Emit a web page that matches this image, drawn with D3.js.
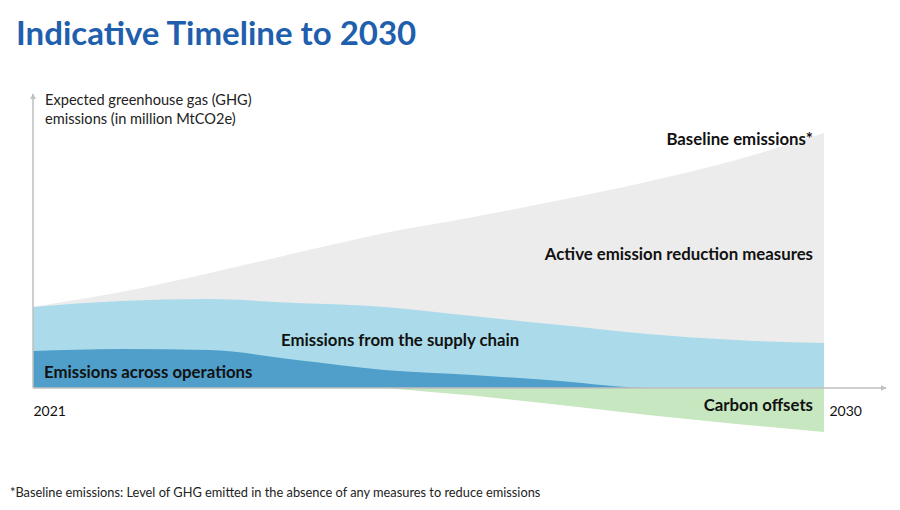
<!DOCTYPE html>
<html>
<head>
<meta charset="utf-8">
<script src="https://cdn.jsdelivr.net/npm/d3@7"></script>
<style>
  body { margin: 0; background: #fff; }
  svg { font-family: Lato, "Open Sans", sans-serif; }
</style>
</head>
<body>
<svg id="chart" width="900" height="510"></svg>
<script>
// years on the timeline
const years = [2021, 2022, 2023, 2024, 2025, 2026, 2027, 2028, 2029, 2030];
// baseline emissions (no measures)
const baseline = [31.8, 37.6, 45.0, 53.0, 60.8, 67.0, 73.7, 81.0, 89.4, 100];
// emissions across operations
const operations = [14.5, 15.3, 14.9, 11.0, 7.1, 5.1, 2.7, 0, 0, 0];
// emissions from the supply chain (on top of operations)
const supplyChain = [17.3, 18.8, 20.0, 22.3, 24.7, 23.1, 22.0, 21.2, 18.8, 17.6];
// carbon offsets (below zero)
const offsets = [null, null, null, null, 0, -2.9, -6.7, -10.6, -14.1, -17.3];
const axisYears = [2021, 2030];

const svg = d3.select('#chart');

const x = d3.scaleLinear().domain([2021, 2030]).range([33, 824]);
const y = d3.scaleLinear().domain([0, 100]).range([388, 133]);

const table = years.map((yr, i) => ({
  year: yr,
  baseline: baseline[i],
  operations: operations[i],
  supply: supplyChain[i],
  offset: offsets[i]
}));

// title
svg.append('text')
  .attr('x', 16).attr('y', 45)
  .attr('fill', '#1f5fad')
  .style('font-size', '33px').style('font-weight', 'bold')
  .text('Indicative Timeline to 2030');

const area = d3.area()
  .x(d => x(d.year))
  .curve(d3.curveMonotoneX);

// baseline (grey)
svg.append('path')
  .datum(table)
  .attr('fill', '#ececec')
  .attr('d', area.y0(y(0)).y1(d => y(d.baseline)));

// stacked blue layers
const stack = d3.stack().keys(['operations', 'supply']);
const layers = stack(table);
const blues = { operations: '#4f9fca', supply: '#abdbea' };

svg.selectAll('.layer')
  .data(layers.slice().reverse())
  .enter()
  .append('path')
  .attr('class', 'layer')
  .attr('fill', d => blues[d.key])
  .attr('d', d => d3.area()
      .x(p => x(p.data.year))
      .y0(y(0))
      .y1(p => y(p[1]))
      .curve(d3.curveMonotoneX)(d));

// carbon offsets (green)
svg.append('path')
  .datum(table.filter(d => d.offset !== null))
  .attr('fill', '#c6e7bf')
  .attr('d', d3.area()
      .x(d => x(d.year))
      .y0(y(0))
      .y1(d => y(d.offset))
      .curve(d3.curveLinear));

// arrow marker
svg.append('defs').append('marker')
  .attr('id', 'arrow')
  .attr('viewBox', '0 0 10 10')
  .attr('refX', 9).attr('refY', 5)
  .attr('markerWidth', 6).attr('markerHeight', 6)
  .attr('markerUnits', 'userSpaceOnUse')
  .attr('orient', 'auto')
  .append('path')
  .attr('d', 'M0,0 L10,5 L0,10 z')
  .attr('fill', '#bfbfbf');

svg.append('line')
  .attr('x1', x(2021)).attr('x2', x(2021))
  .attr('y1', y(0)).attr('y2', 94)
  .attr('stroke', '#bfbfbf').attr('stroke-width', 1.5)
  .attr('marker-end', 'url(#arrow)');

svg.append('line')
  .attr('x1', x(2021)).attr('x2', 886)
  .attr('y1', y(0)).attr('y2', y(0))
  .attr('stroke', '#bfbfbf').attr('stroke-width', 1.5)
  .attr('marker-end', 'url(#arrow)');

// year labels
const xAxis = svg.append('g')
  .attr('transform', `translate(0, ${y(0)})`)
  .call(d3.axisBottom(x).tickValues(axisYears).tickSize(0).tickFormat(d3.format('d')));
xAxis.select('.domain').remove();
xAxis.selectAll('text')
  .attr('text-anchor', 'start')
  .attr('y', 18)
  .attr('dx', d => d === 2030 ? 5 : 0)
  .style('font-family', 'Lato, "Open Sans", sans-serif')
  .style('font-size', '14px')
  .attr('fill', '#111');

// y axis label
const yLabel = svg.append('text')
  .attr('x', 45).attr('y', 105)
  .attr('fill', '#222')
  .style('font-size', '14.6px');
yLabel.append('tspan').attr('x', 45).text('Expected greenhouse gas (GHG)');
yLabel.append('tspan').attr('x', 45).attr('dy', 19).text('emissions (in million MtCO2e)');

// series labels
const labels = [
  { text: 'Baseline emissions*', x: 813, y: 145, anchor: 'end' },
  { text: 'Active emission reduction measures', x: 813, y: 260, anchor: 'end' },
  { text: 'Emissions from the supply chain', x: 281, y: 346, anchor: 'start' },
  { text: 'Emissions across operations', x: 44, y: 378, anchor: 'start' },
  { text: 'Carbon offsets', x: 813, y: 411, anchor: 'end' }
];
svg.selectAll('.lbl')
  .data(labels)
  .enter()
  .append('text')
  .attr('class', 'lbl')
  .attr('x', d => d.x).attr('y', d => d.y)
  .attr('text-anchor', d => d.anchor)
  .attr('fill', '#111')
  .style('font-size', '16.8px').style('font-weight', 'bold')
  .text(d => d.text);

// footnote
svg.append('text')
  .attr('x', 10).attr('y', 497)
  .attr('fill', '#222')
  .style('font-size', '12.8px')
  .text('*Baseline emissions: Level of GHG emitted in the absence of any measures to reduce emissions');
</script>
</body>
</html>
